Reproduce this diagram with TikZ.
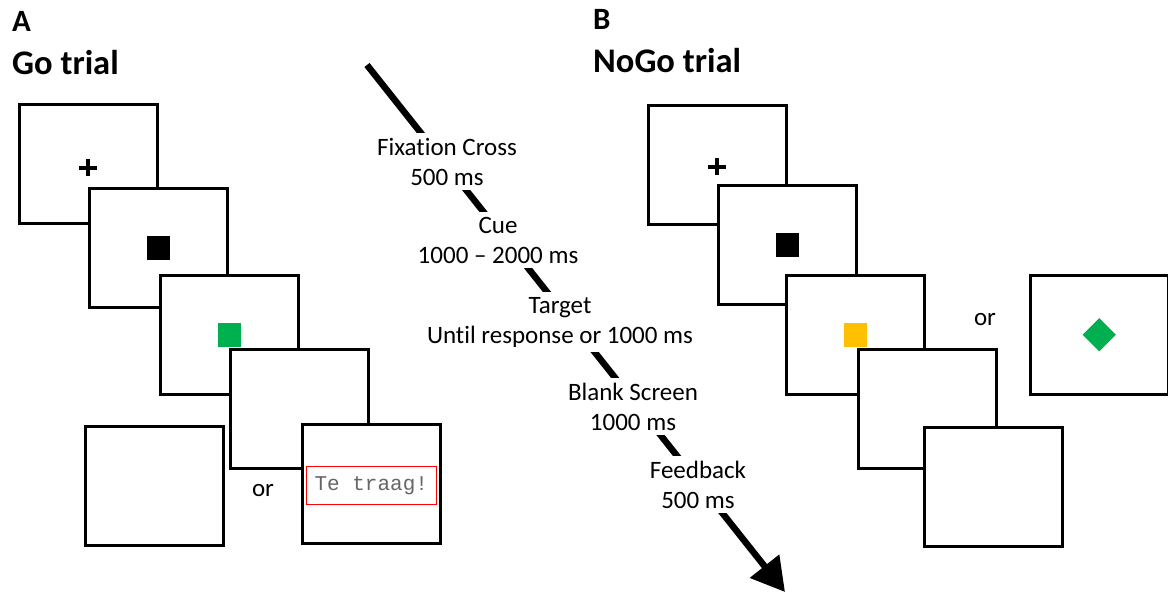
\documentclass[tikz,border=0pt]{standalone}
\usepackage{fontspec}
\setmainfont{Carlito}[Ligatures=NoCommon]
\newfontfamily\msgfont{Liberation Mono}
\usetikzlibrary{arrows.meta}
\definecolor{gogreen}{HTML}{00B050}
\definecolor{nogoyellow}{HTML}{FFC000}
\definecolor{msggray}{HTML}{666666}
\begin{document}
\begin{tikzpicture}[x=1pt, y=-1pt, every node/.style={font=\fontsize{25}{30}\selectfont},
  screen/.style={draw,line width=2.6pt,fill=white,minimum width=138pt,minimum height=119pt,inner sep=0pt,anchor=north west},
  stim/.style={minimum size=23.5pt,inner sep=0pt},
  fixcross/.style={line width=4pt},
  lab/.style={fill=white,align=center,inner xsep=2pt,inner ysep=5pt,anchor=base},
  panel/.style={font=\fontsize{31}{36}\selectfont\bfseries,anchor=base west,inner sep=0pt},
  title/.style={font=\fontsize{34.5}{40}\selectfont\bfseries,anchor=base west,inner sep=0pt}]
\useasboundingbox (0,0) rectangle (1168,594);
\node[panel] (pA) at (12,32) {A};
\node[title] (tA) at (12,74.5) {Go trial};
\node[panel] (pB) at (593,30) {B};
\node[title] (tB) at (593,72.5) {NoGo trial};
\node[screen] (a1) at (18,103) {};
\coordinate (a1s) at ([yshift=-4pt]a1.center);
\draw[fixcross] ([xshift=-9pt]a1s) -- ([xshift=9pt]a1s) ([yshift=-8.5pt]a1s) -- ([yshift=8.5pt]a1s);
\node[screen] (a2) at (88,187) {};
\node[stim,fill=black] (a2s) at (a2.center) {};
\node[screen] (a3) at (159,274) {};
\node[stim,fill=gogreen] (a3s) at (a3.center) {};
\node[screen] (a4) at (229,348) {};
\node[screen] (a5) at (301,423) {};
\node[draw=red,line width=1.3pt,minimum width=130pt,minimum height=38pt,text=msggray,font=\fontsize{21}{24}\msgfont] (slow) at ([yshift=-1.5pt]a5.center) {Te traag!};
\node[screen] (a6) at (84,425) {};
\node (orA) at (263,491) {or};
\node[screen] (b1) at (647,104) {};
\coordinate (b1s) at ([yshift=-2pt]b1.center);
\draw[fixcross] ([xshift=-9pt]b1s) -- ([xshift=9pt]b1s) ([yshift=-8.5pt]b1s) -- ([yshift=8.5pt]b1s);
\node[screen] (b2) at (717,184) {};
\node[stim,fill=black] (b2s) at (b2.center) {};
\node[screen] (b3) at (785,274) {};
\node[stim,fill=nogoyellow] (b3s) at (b3.center) {};
\node[screen] (b4) at (857,348) {};
\node[screen] (b5) at (923,426) {};
\node (orB) at (985,320) {or};
\node[screen] (b6) at (1029,274) {};
\node[stim,fill=gogreen,rotate=45] (b6s) at (b6.center) {};
\coordinate (arrS) at (367,65);
\coordinate (arrE) at (785,592);
\draw[line width=6.5pt,-{Triangle[width=36pt,length=33pt]}] (arrS) -- (arrE);
\node[lab] (fix) at (447,185) {Fixation Cross\\500 ms};
\node[lab] (cue) at (498,263) {Cue\\1000 -- 2000 ms};
\node[lab] (tgt) at (560,343) {Target\\Until response or 1000 ms};
\node[lab] (blank) at (633,430) {Blank Screen\\1000 ms};
\node[lab] (fb) at (698,508) {Feedback\\500 ms};
\end{tikzpicture}
\end{document}
